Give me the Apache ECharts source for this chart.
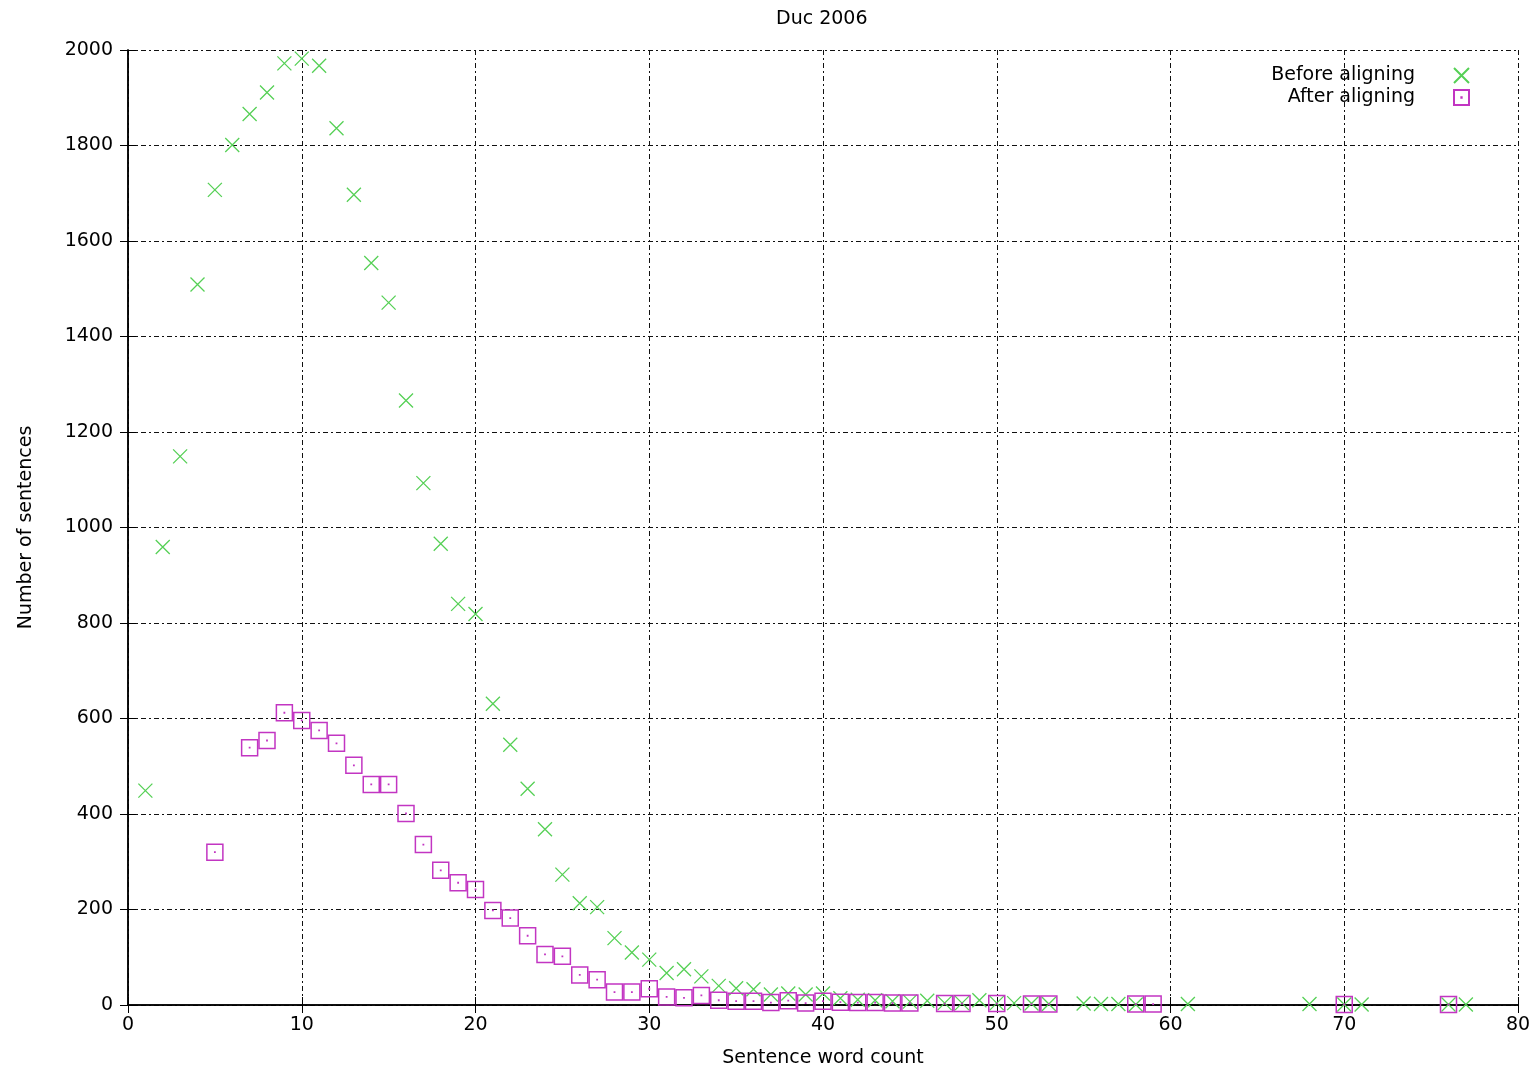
<!DOCTYPE html>
<html>
<head>
<meta charset="utf-8">
<script src="https://cdn.jsdelivr.net/npm/echarts@6/dist/echarts.min.js"></script>
<style>
  html, body { margin: 0; padding: 0; background: #fff; }
  #chart { width: 1538px; height: 1073px; }
</style>
</head>
<body>
<div id="chart"></div>
<script>
// sentence word counts
const beforeX = [1, 2, 3, 4, 5, 6, 7, 8, 9, 10, 11, 12, 13, 14, 15, 16, 17, 18, 19, 20,
    21, 22, 23, 24, 25, 26, 27, 28, 29, 30, 31, 32, 33, 34, 35, 36, 37, 38, 39, 40,
    41, 42, 43, 44, 45, 46, 47, 48, 49, 50, 51, 52, 53, 55, 56, 57, 58, 61, 68, 70, 71, 76, 77];
const beforeY = [449, 959, 1149, 1509, 1707, 1801, 1866, 1911, 1972, 1982, 1967, 1836, 1697, 1554, 1471, 1266, 1093, 966, 840, 819,
    631, 545, 453, 368, 273, 213, 205, 140, 110, 95, 67, 75, 60, 40, 35, 33, 22, 24, 22, 24,
    14, 11, 10, 8, 7, 9, 4, 4, 10, 4, 4, 3, 2, 3, 2, 2, 1, 2, 2, 1, 1, 1, 1];

const afterX = [5, 7, 8, 9, 10, 11, 12, 13, 14, 15, 16, 17, 18, 19, 20, 21, 22, 23, 24, 25,
    26, 27, 28, 29, 30, 31, 32, 33, 34, 35, 36, 37, 38, 39, 40, 41, 42, 43, 44, 45,
    47, 48, 50, 52, 53, 58, 59, 70, 76];
const afterY = [320, 539, 554, 612, 596, 575, 548, 502, 462, 462, 401, 336, 282, 256, 242, 198, 182, 145, 106, 102,
    63, 53, 27, 27, 34, 17, 15, 20, 10, 8, 8, 5, 9, 4, 8, 6, 5, 5, 4, 4,
    3, 3, 3, 2, 2, 2, 2, 1, 1];

const xTicks = [0, 10, 20, 30, 40, 50, 60, 70, 80];
const yTicks = [0, 200, 400, 600, 800, 1000, 1200, 1400, 1600, 1800, 2000];

const crossPath = 'path://M0,0L10,10M10,0L0,10';
const boxPath = 'path://M0,0L10,0L10,10L0,10Z M4.9,4.9L5.1,4.9L5.1,5.1L4.9,5.1Z';
const green = '#55d055';
const magenta = '#c235c2';
const font = 'DejaVu Sans, Liberation Sans, sans-serif';
const fs = 19;
const gridDash = [5, 3, 2, 3];

let zip = (xs, ys) => xs.map((x, i) => [x, ys[i]]);

const chart = echarts.init(document.getElementById('chart'));

const hiddenAxisBase = {
    axisLine: { show: true, lineStyle: { color: '#000', width: 1.5 } },
    axisTick: { show: true, inside: true, length: 8, lineStyle: { color: '#000' } },
    axisLabel: { show: false },
    splitLine: { show: false }
};

chart.setOption({
    backgroundColor: '#fff',
    animation: false,
    title: {
        text: 'Duc 2006',
        left: 771,
        top: 5,
        textStyle: { fontFamily: font, fontSize: fs, fontWeight: 'normal', color: '#000' }
    },
    legend: {
        orient: 'vertical',
        right: 63,
        top: 61,
        align: 'right',
        itemWidth: 15,
        itemHeight: 15,
        itemGap: 3,
        selectedMode: false,
        textStyle: { fontFamily: font, fontSize: fs, color: '#000', padding: [0, 34, 0, 0] },
        data: [
            { name: 'Before aligning', icon: crossPath },
            { name: 'After aligning', icon: boxPath }
        ]
    },
    grid: { left: 128, right: 20, top: 50, bottom: 66 },
    xAxis: [{
        type: 'value',
        min: xTicks[0],
        max: xTicks[xTicks.length - 1],
        interval: 10,
        name: 'Sentence word count',
        nameLocation: 'middle',
        nameGap: 44,
        nameTextStyle: { fontFamily: font, fontSize: fs, color: '#000' },
        axisLine: { show: true, lineStyle: { color: '#000', width: 1.5 } },
        axisTick: { show: true, inside: true, length: 8, lineStyle: { color: '#000' } },
        axisLabel: { fontFamily: font, fontSize: fs, color: '#000', margin: 11 },
        splitLine: { show: true, lineStyle: { color: '#111', type: gridDash, width: 1 } }
    }, Object.assign({
        type: 'value', position: 'top', min: 0, max: 80, interval: 10
    }, hiddenAxisBase)],
    yAxis: [{
        type: 'value',
        min: yTicks[0],
        max: yTicks[yTicks.length - 1],
        interval: 200,
        name: 'Number of sentences',
        nameLocation: 'middle',
        nameGap: 92,
        nameTextStyle: { fontFamily: font, fontSize: fs, color: '#000' },
        axisLine: { show: true, lineStyle: { color: '#000', width: 1.5 } },
        axisTick: { show: true, inside: true, length: 8, lineStyle: { color: '#000' } },
        axisLabel: { fontFamily: font, fontSize: fs, color: '#000', margin: 15, formatter: (v) => String(v) },
        splitLine: { show: true, lineStyle: { color: '#111', type: gridDash, width: 1 } }
    }, Object.assign({
        type: 'value', position: 'right', min: 0, max: 2000, interval: 200
    }, hiddenAxisBase)],
    series: [{
        name: 'Before aligning',
        type: 'scatter',
        symbol: crossPath,
        symbolSize: 14,
        itemStyle: { color: 'rgba(0,0,0,0)', borderColor: green, borderWidth: 1.3, opacity: 1 },
        data: zip(beforeX, beforeY),
        z: 3
    }, {
        name: 'After aligning',
        type: 'scatter',
        symbol: boxPath,
        symbolSize: 16,
        itemStyle: { color: 'rgba(0,0,0,0)', borderColor: magenta, borderWidth: 1.5, opacity: 1 },
        data: zip(afterX, afterY),
        z: 4
    }]
});
</script>
</body>
</html>
